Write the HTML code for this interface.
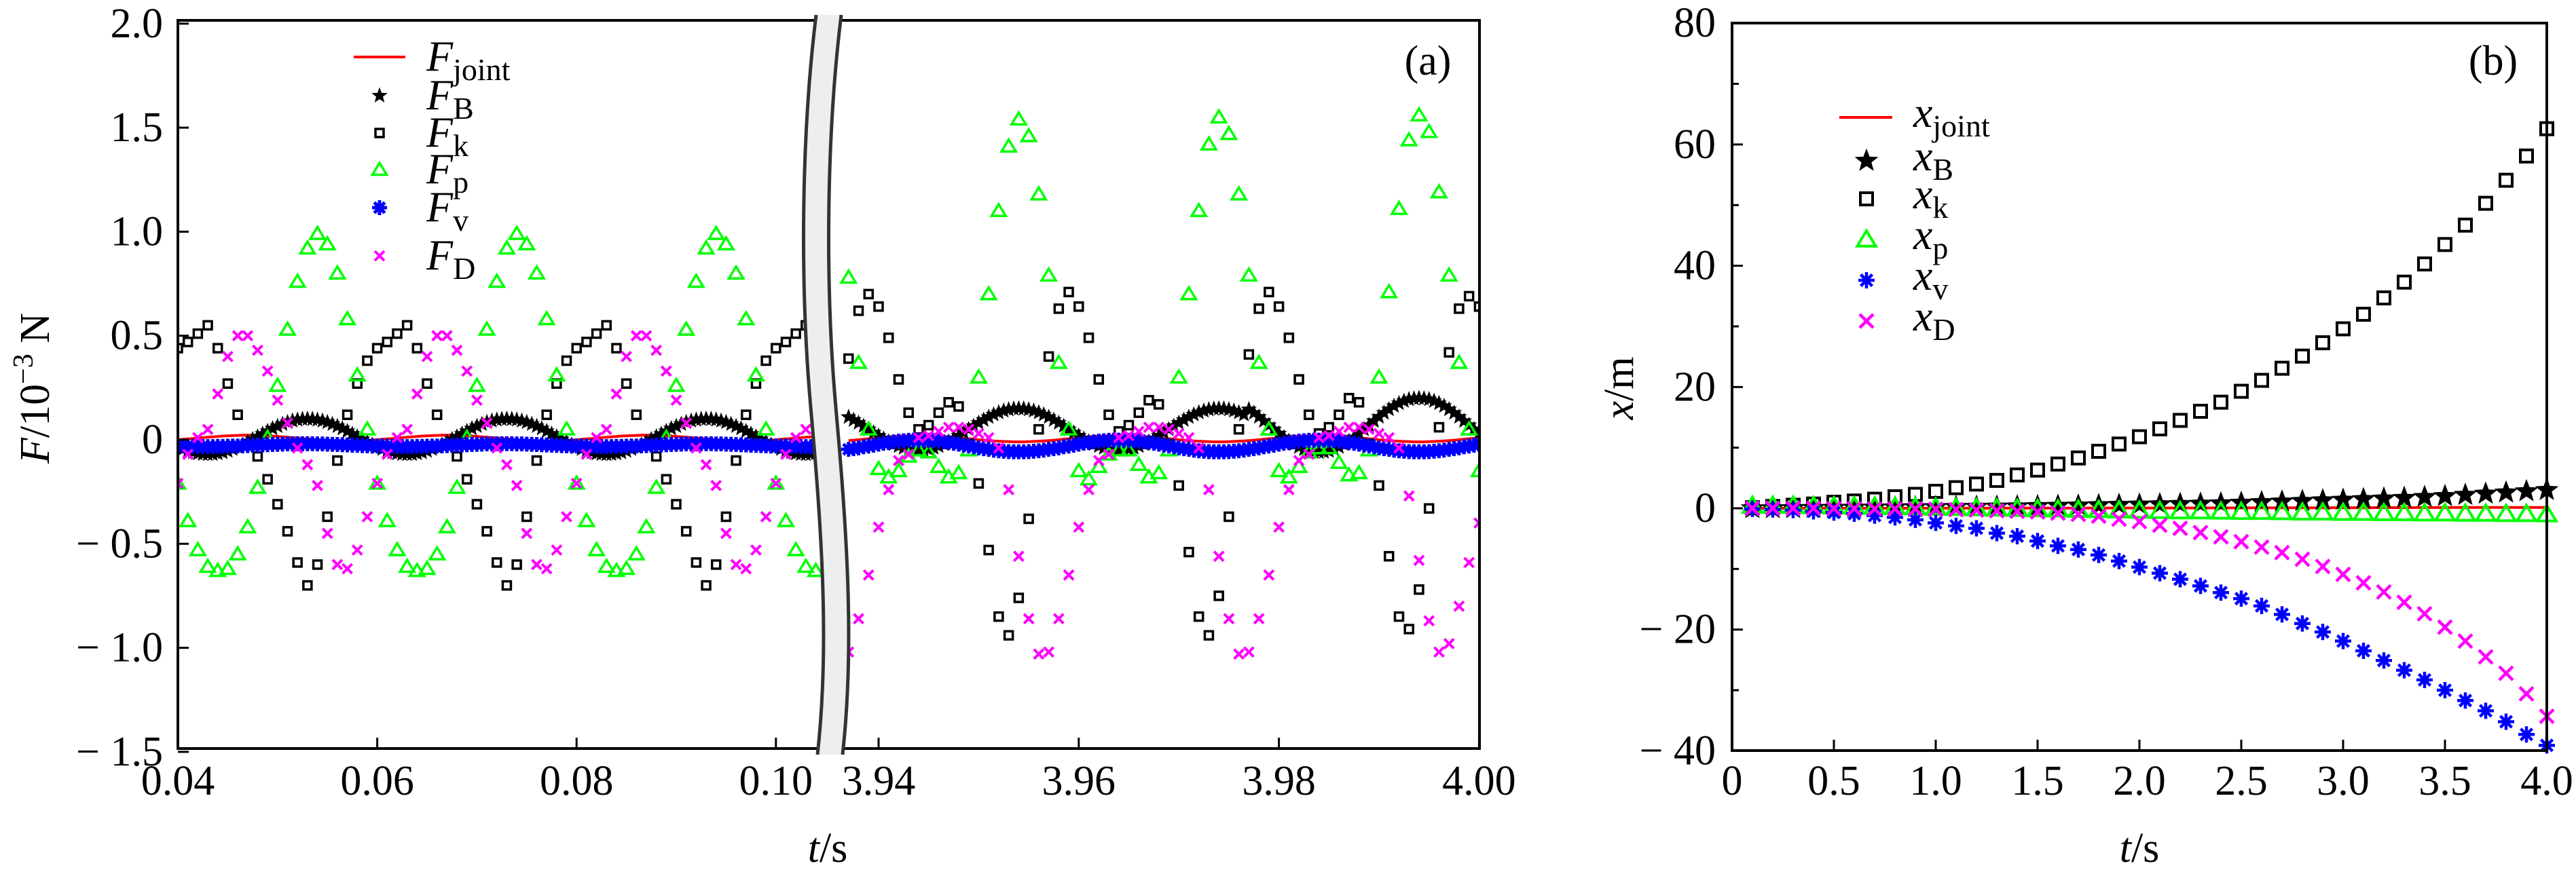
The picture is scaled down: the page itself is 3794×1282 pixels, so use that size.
<!DOCTYPE html>
<html><head><meta charset="utf-8"><style>
html,body{margin:0;padding:0;background:#fff}
svg{display:block}
text{font-family:"Liberation Serif",serif;fill:#000}
</style></head><body>
<svg id="chart" width="3794" height="1282" viewBox="0 0 3794 1282" xmlns="http://www.w3.org/2000/svg">
<g id="pa"></g>
<g id="pb"></g>
</svg>
<script>
// ---------- Panel (a) data ----------
const aLeftStart = 0.040, aRightStart = 3.937, sparseStep = 0.001, denseStep = 0.0005;
const aYTicks = [2.0, 1.5, 1.0, 0.5, 0, -0.5, -1.0, -1.5];
const aYTickLabels = ["2.0","1.5","1.0","0.5","0","− 0.5","− 1.0","− 1.5"];
const aXTicksLeft = [0.04, 0.06, 0.08, 0.10];
const aXTickLabelsLeft = ["0.04","0.06","0.08","0.10"];
const aXTicksRight = [3.94, 3.96, 3.98, 4.00];
const aXTickLabelsRight = ["3.94","3.96","3.98","4.00"];

const FkL = [0.44,0.47,0.51,0.55,0.44,0.27,0.12,-0.02,-0.08,-0.19,-0.31,-0.44,-0.59,-0.70,-0.60,-0.37,-0.10,0.12,0.27,0.38,
0.44,0.47,0.51,0.55,0.44,0.27,0.12,-0.02,-0.08,-0.19,-0.31,-0.44,-0.59,-0.70,-0.60,-0.37,-0.10,0.12,0.27,0.38,
0.44,0.47,0.51,0.55,0.44,0.27,0.12,-0.02,-0.08,-0.19,-0.31,-0.44,-0.59,-0.70,-0.60,-0.37,-0.10,0.12,0.27,0.38,
0.44,0.47,0.51,0.55,0.44];
const FpL = [-0.21,-0.39,-0.53,-0.61,-0.63,-0.62,-0.55,-0.42,-0.23,0.01,0.26,0.53,0.76,0.92,0.99,0.94,0.80,0.58,0.31,0.05,
-0.21,-0.39,-0.53,-0.61,-0.63,-0.62,-0.55,-0.42,-0.23,0.01,0.26,0.53,0.76,0.92,0.99,0.94,0.80,0.58,0.31,0.05,
-0.21,-0.39,-0.53,-0.61,-0.63,-0.62,-0.55,-0.42,-0.23,0.01,0.26,0.53,0.76,0.92,0.99,0.94,0.80,0.58,0.31,0.05,
-0.21,-0.39,-0.53,-0.61,-0.63];
const FDL = [-0.21,-0.07,0.01,0.05,0.22,0.40,0.50,0.50,0.43,0.33,0.19,0.08,-0.04,-0.12,-0.22,-0.45,-0.60,-0.62,-0.53,-0.37,
-0.21,-0.07,0.01,0.05,0.22,0.40,0.50,0.50,0.43,0.33,0.19,0.08,-0.04,-0.12,-0.22,-0.45,-0.60,-0.62,-0.53,-0.37,
-0.21,-0.07,0.01,0.05,0.22,0.40,0.50,0.50,0.43,0.33,0.19,0.08,-0.04,-0.12,-0.22,-0.45,-0.60,-0.62,-0.53,-0.37,
-0.21,-0.07,0.01,0.05,0.22];
const FkR = [0.39,0.62,0.70,0.64,0.49,0.29,0.13,0.05,0.07,0.13,0.18,0.16,-0.02,-0.21,-0.53,-0.85,-0.94,-0.76,-0.38,0.05,
0.40,0.63,0.71,0.64,0.49,0.29,0.12,0.04,0.07,0.13,0.19,0.17,-0.02,-0.22,-0.54,-0.85,-0.94,-0.75,-0.37,0.05,
0.41,0.63,0.71,0.64,0.49,0.29,0.12,0.03,0.06,0.12,0.20,0.18,-0.02,-0.22,-0.56,-0.85,-0.91,-0.72,-0.33,0.06,
0.42,0.63,0.69,0.64];
const FpR = [0.78,0.37,0.05,-0.14,-0.18,-0.15,-0.08,-0.05,-0.06,-0.13,-0.18,-0.16,-0.05,0.30,0.70,1.10,1.41,1.54,1.46,1.18,
0.79,0.37,0.05,-0.15,-0.19,-0.13,-0.07,-0.05,-0.05,-0.12,-0.18,-0.16,-0.05,0.30,0.70,1.10,1.42,1.55,1.47,1.18,
0.79,0.37,0.05,-0.15,-0.18,-0.13,-0.06,-0.04,-0.04,-0.11,-0.17,-0.16,-0.05,0.30,0.71,1.11,1.44,1.56,1.48,1.19,
0.79,0.37,0.05,-0.15];
const FDR = [-1.02,-0.86,-0.65,-0.42,-0.24,-0.10,-0.07,0.01,0.02,0.04,0.06,0.06,0.05,0.03,0.01,-0.04,-0.24,-0.56,-0.86,-1.03,
-1.02,-0.86,-0.65,-0.42,-0.24,-0.10,-0.07,0.01,0.02,0.04,0.06,0.06,0.05,0.03,0.01,-0.04,-0.24,-0.56,-0.86,-1.03,
-1.02,-0.86,-0.65,-0.42,-0.24,-0.10,-0.07,0.01,0.02,0.04,0.06,0.06,0.05,0.03,0.01,-0.04,-0.27,-0.58,-0.87,-1.02,
-0.98,-0.80,-0.59,-0.40];

const FBL = [-0.035,-0.045,-0.054,-0.061,-0.066,-0.069,-0.07,-0.069,-0.066,-0.061,-0.054,-0.045,-0.035,-0.024,-0.011,0.002,0.015,0.028,0.041,0.054,0.065,0.075,0.084,0.091,0.096,0.099,0.1,0.099,0.096,0.091,0.084,0.075,0.065,0.054,0.041,0.028,0.015,0.002,-0.011,-0.024,
-0.035,-0.045,-0.054,-0.061,-0.066,-0.069,-0.07,-0.069,-0.066,-0.061,-0.054,-0.045,-0.035,-0.024,-0.011,0.002,0.015,0.028,0.041,0.054,0.065,0.075,0.084,0.091,0.096,0.099,0.1,0.099,0.096,0.091,0.084,0.075,0.065,0.054,0.041,0.028,0.015,0.002,-0.011,-0.024,
-0.035,-0.045,-0.054,-0.061,-0.066,-0.069,-0.07,-0.069,-0.066,-0.061,-0.054,-0.045,-0.035,-0.024,-0.011,0.002,0.015,0.028,0.041,0.054,0.065,0.075,0.084,0.091,0.096,0.099,0.1,0.099,0.096,0.091,0.084,0.075,0.065,0.054,0.041,0.028,0.015,0.002,-0.011,-0.024,
-0.035,-0.045,-0.054,-0.061,-0.066,-0.069,-0.07,-0.069,-0.066];
const FvL = [-0.03,-0.03,-0.031,-0.032,-0.032,-0.033,-0.033,-0.033,-0.032,-0.032,-0.031,-0.03,-0.03,-0.029,-0.028,-0.027,-0.026,-0.025,-0.024,-0.023,-0.022,-0.021,-0.02,-0.02,-0.019,-0.019,-0.019,-0.019,-0.02,-0.02,-0.021,-0.022,-0.023,-0.024,-0.025,-0.026,-0.027,-0.028,-0.029,-0.03,
-0.03,-0.03,-0.031,-0.032,-0.032,-0.033,-0.033,-0.033,-0.032,-0.032,-0.031,-0.03,-0.03,-0.029,-0.028,-0.027,-0.026,-0.025,-0.024,-0.023,-0.022,-0.021,-0.02,-0.02,-0.019,-0.019,-0.019,-0.019,-0.02,-0.02,-0.021,-0.022,-0.023,-0.024,-0.025,-0.026,-0.027,-0.028,-0.029,-0.03,
-0.03,-0.03,-0.031,-0.032,-0.032,-0.033,-0.033,-0.033,-0.032,-0.032,-0.031,-0.03,-0.03,-0.029,-0.028,-0.027,-0.026,-0.025,-0.024,-0.023,-0.022,-0.021,-0.02,-0.02,-0.019,-0.019,-0.019,-0.019,-0.02,-0.02,-0.021,-0.022,-0.023,-0.024,-0.025,-0.026,-0.027,-0.028,-0.029,-0.03,
-0.03,-0.03,-0.031,-0.032,-0.032,-0.033,-0.033,-0.033,-0.032];
const FjL = [0.0,0.002,0.004,0.006,0.008,0.01,0.012,0.014,0.016,0.018,0.019,0.02,0.021,0.022,0.022,0.022,0.021,0.02,0.019,0.018,0.016,0.014,0.012,0.01,0.008,0.006,0.004,0.002,0.0,-0.002,-0.003,-0.004,-0.005,-0.006,-0.006,-0.006,-0.005,-0.004,-0.003,-0.002,
0.0,0.002,0.004,0.006,0.008,0.01,0.012,0.014,0.016,0.018,0.019,0.02,0.021,0.022,0.022,0.022,0.021,0.02,0.019,0.018,0.016,0.014,0.012,0.01,0.008,0.006,0.004,0.002,0.0,-0.002,-0.003,-0.004,-0.005,-0.006,-0.006,-0.006,-0.005,-0.004,-0.003,-0.002,
0.0,0.002,0.004,0.006,0.008,0.01,0.012,0.014,0.016,0.018,0.019,0.02,0.021,0.022,0.022,0.022,0.021,0.02,0.019,0.018,0.016,0.014,0.012,0.01,0.008,0.006,0.004,0.002,0.0,-0.002,-0.003,-0.004,-0.005,-0.006,-0.006,-0.006,-0.005,-0.004,-0.003,-0.002,
0.0,0.002,0.004,0.006,0.008,0.01,0.012,0.014,0.016];
const FBR = [0.109,0.095,0.081,0.066,0.05,0.034,0.019,0.005,-0.009,-0.021,-0.031,-0.039,-0.045,-0.049,-0.05,-0.049,-0.045,-0.039,-0.031,-0.021,-0.009,0.005,0.019,0.034,0.05,0.066,0.081,0.095,0.109,0.121,0.131,0.139,0.145,0.149,0.15,0.149,0.145,0.139,0.131,0.121,
0.109,0.095,0.081,0.066,0.05,0.034,0.019,0.005,-0.009,-0.021,-0.031,-0.039,-0.045,-0.049,-0.05,-0.049,-0.045,-0.039,-0.031,-0.021,-0.009,0.005,0.019,0.034,0.05,0.066,0.081,0.095,0.109,0.121,0.131,0.139,0.145,0.149,0.15,0.149,0.145,0.139,0.131,0.121,
0.146,0.129,0.110,0.090,0.07,0.050,0.030,0.011,-0.006,-0.022,-0.035,-0.046,-0.054,-0.058,-0.06,-0.058,-0.054,-0.046,-0.035,-0.022,-0.006,0.011,0.030,0.050,0.07,0.090,0.110,0.129,0.146,0.162,0.175,0.186,0.194,0.198,0.2,0.198,0.194,0.186,0.175,0.162,
0.146,0.129,0.110,0.090,0.07,0.050,0.030];
const FvR = [-0.046,-0.043,-0.039,-0.034,-0.03,-0.026,-0.021,-0.017,-0.014,-0.01,-0.007,-0.005,-0.003,-0.002,-0.002,-0.002,-0.003,-0.005,-0.007,-0.01,-0.014,-0.017,-0.021,-0.026,-0.03,-0.034,-0.039,-0.043,-0.046,-0.05,-0.053,-0.055,-0.057,-0.058,-0.058,-0.058,-0.057,-0.055,-0.053,-0.05,
-0.046,-0.043,-0.039,-0.034,-0.03,-0.026,-0.021,-0.017,-0.014,-0.01,-0.007,-0.005,-0.003,-0.002,-0.002,-0.002,-0.003,-0.005,-0.007,-0.01,-0.014,-0.017,-0.021,-0.026,-0.03,-0.034,-0.039,-0.043,-0.046,-0.05,-0.053,-0.055,-0.057,-0.058,-0.058,-0.058,-0.057,-0.055,-0.053,-0.05,
-0.046,-0.043,-0.039,-0.034,-0.03,-0.026,-0.021,-0.017,-0.014,-0.01,-0.007,-0.005,-0.003,-0.002,-0.002,-0.002,-0.003,-0.005,-0.007,-0.01,-0.014,-0.017,-0.021,-0.026,-0.03,-0.034,-0.039,-0.043,-0.046,-0.05,-0.053,-0.055,-0.057,-0.058,-0.058,-0.058,-0.057,-0.055,-0.053,-0.05,
-0.046,-0.043,-0.039,-0.034,-0.03,-0.026,-0.021];
const FjR = [-0.004,-0.002,0.0,0.003,0.005,0.007,0.01,0.012,0.014,0.016,0.017,0.018,0.019,0.02,0.02,0.02,0.019,0.018,0.017,0.016,0.014,0.012,0.01,0.007,0.005,0.003,0.0,-0.002,-0.004,-0.006,-0.007,-0.008,-0.009,-0.01,-0.01,-0.01,-0.009,-0.008,-0.007,-0.006,
-0.004,-0.002,0.0,0.003,0.005,0.007,0.01,0.012,0.014,0.016,0.017,0.018,0.019,0.02,0.02,0.02,0.019,0.018,0.017,0.016,0.014,0.012,0.01,0.007,0.005,0.003,0.0,-0.002,-0.004,-0.006,-0.007,-0.008,-0.009,-0.01,-0.01,-0.01,-0.009,-0.008,-0.007,-0.006,
-0.004,-0.002,0.0,0.003,0.005,0.007,0.01,0.012,0.014,0.016,0.017,0.018,0.019,0.02,0.02,0.02,0.019,0.018,0.017,0.016,0.014,0.012,0.01,0.007,0.005,0.003,0.0,-0.002,-0.004,-0.006,-0.007,-0.008,-0.009,-0.01,-0.01,-0.01,-0.009,-0.008,-0.007,-0.006,
-0.004,-0.002,0.0,0.003,0.005,0.007,0.01];

// ---------- Panel (b) data ----------
const bTime = [0.1,0.2,0.3,0.4,0.5,0.6,0.7,0.8,0.9,1.0,1.1,1.2,1.3,1.4,1.5,1.6,1.7,1.8,1.9,2.0,2.1,2.2,2.3,2.4,2.5,2.6,2.7,2.8,2.9,3.0,3.1,3.2,3.3,3.4,3.5,3.6,3.7,3.8,3.9,4.0];
const xk = [0.1,0.3,0.5,0.7,1.0,1.2,1.5,1.9,2.3,2.8,3.4,4.0,4.6,5.5,6.3,7.3,8.3,9.4,10.6,11.8,13.1,14.5,16.0,17.5,19.3,21.1,23.1,25.1,27.3,29.6,32.0,34.7,37.3,40.3,43.5,46.7,50.3,54.1,58.1,62.6];
const xv = [-0.1,-0.2,-0.3,-0.5,-0.7,-0.9,-1.2,-1.5,-1.9,-2.4,-2.9,-3.3,-4.1,-4.6,-5.4,-6.2,-6.8,-7.7,-8.7,-9.7,-10.7,-11.7,-12.8,-13.9,-14.9,-16.1,-17.5,-19.0,-20.4,-21.9,-23.5,-25.1,-26.7,-28.3,-30.0,-31.7,-33.4,-35.2,-37.3,-39.1];
const xD = [0,0,0,0,-0.05,-0.05,-0.1,-0.1,-0.1,-0.15,-0.2,-0.3,-0.4,-0.5,-0.6,-0.8,-1.0,-1.3,-1.8,-2.2,-2.8,-3.3,-4.0,-4.7,-5.5,-6.4,-7.3,-8.4,-9.6,-10.9,-12.3,-13.8,-15.5,-17.4,-19.6,-21.9,-24.5,-27.2,-30.6,-34.3];
const xB = [0,0,0.02,0.05,0.07,0.1,0.12,0.15,0.18,0.2,0.22,0.25,0.27,0.3,0.35,0.4,0.45,0.5,0.55,0.6,0.65,0.7,0.75,0.8,0.9,1.0,1.1,1.2,1.3,1.4,1.5,1.6,1.7,1.85,2.0,2.2,2.4,2.6,2.8,3.0];
const xp = [0.4,0.4,0.4,0.35,0.3,0.3,0.25,0.2,0.15,0.1,0.05,0,-0.05,-0.1,-0.15,-0.2,-0.25,-0.3,-0.35,-0.4,-0.45,-0.5,-0.5,-0.55,-0.6,-0.6,-0.65,-0.7,-0.7,-0.75,-0.75,-0.8,-0.8,-0.85,-0.85,-0.9,-0.9,-0.95,-0.95,-1.0];
const xj = [0,0,0,0,0,0,0,0,0,0.01,0.01,0.01,0.02,0.02,0.02,0.03,0.03,0.04,0.04,0.05,0.05,0.06,0.06,0.07,0.07,0.08,0.08,0.09,0.09,0.1,0.1,0.11,0.11,0.12,0.12,0.13,0.13,0.14,0.14,0.15];
const bYTicks = [80,60,40,20,0,-20,-40];
const bYTickLabels = ["80","60","40","20","0","− 20","− 40"];
const bYMinor = [70,50,30,10,-10,-30];
const bXTicks = [0,0.5,1.0,1.5,2.0,2.5,3.0,3.5,4.0];
const bXTickLabels = ["0","0.5","1.0","1.5","2.0","2.5","3.0","3.5","4.0"];

// ---------- scales ----------
const A = {x0:262, x1:2179, y0:30, y1:1103};
function xaL(t){ return 262 + (t-0.04)*14680; }
function xaR(t){ return 1294 + (t-3.94)*14740; }
function ya(v){ return 648 - v*306.6; }
const B = {x0:2551, x1:3751, y0:34, y1:1106};
function xb(t){ return 2551 + t*300; }
function yb(v){ return 749 - v*8.935; }

const NS = "http://www.w3.org/2000/svg";
const FS = 62;
function mk(tag, attrs, parent){
  const e = document.createElementNS(NS, tag);
  for (const k in attrs) e.setAttribute(k, attrs[k]);
  parent.appendChild(e);
  return e;
}
const GREEN = "#00ff00", MAG = "#ff00ff", BLUE = "#0000ff", RED = "#ff0000";

function starPts(cx, cy, r){
  let p = [];
  for (let i=0;i<10;i++){
    const rr = i%2===0 ? r : r*0.42;
    const a = -Math.PI/2 + i*Math.PI/5;
    p.push((cx+rr*Math.cos(a)).toFixed(1)+","+(cy+rr*Math.sin(a)).toFixed(1));
  }
  return p.join(" ");
}
function drawMarker(g, type, cx, cy, s){
  if (type==="star"){
    const e = mk("polygon", {points:starPts(cx,cy,s.r), fill:s.fill||"#000", stroke:"#000", "stroke-width":s.sw||1.5, "stroke-linejoin":"miter"}, g);
    
    
  } else if (type==="square"){
    const e = mk("rect", {x:cx-s.r, y:cy-s.r, width:2*s.r, height:2*s.r, fill:"none", stroke:"#000", "stroke-width":s.sw}, g);
    
    
  } else if (type==="tri"){
    const r = s.r;
    const e = mk("polygon", {points:`${cx},${cy-r} ${cx+r*1.05},${cy+r*0.75} ${cx-r*1.05},${cy+r*0.75}`, fill:"none", stroke:GREEN, "stroke-width":s.sw, "stroke-linejoin":"miter"}, g);
    
    
  } else if (type==="ast"){
    const r = s.r;
    let d = "";
    for (let i=0;i<4;i++){ const a=i*Math.PI/4; d += `M${cx-r*Math.cos(a)},${cy-r*Math.sin(a)}L${cx+r*Math.cos(a)},${cy+r*Math.sin(a)}`; }
    const e = mk("path", {d:d, stroke:BLUE, "stroke-width":s.sw, fill:"none"}, g);
    
    
  } else if (type==="x"){
    const r = s.r;
    const e = mk("path", {d:`M${cx-r},${cy-r}L${cx+r},${cy+r}M${cx-r},${cy+r}L${cx+r},${cy-r}`, stroke:MAG, "stroke-width":s.sw, fill:"none"}, g);
    
    
  }
}
function linePath(ts, vs, fx, fy){
  return ts.map((t,i)=>(i?"L":"M")+fx(t).toFixed(1)+","+fy(vs[i]).toFixed(1)).join("");
}
function times(start, step, n){ const a=[]; for(let i=0;i<n;i++) a.push(+(start+i*step).toFixed(5)); return a; }

// ---------- Panel (a) ----------
const pa = document.getElementById("pa");
const clipA = mk("clipPath", {id:"clipA"}, pa);
mk("rect", {x:A.x0, y:A.y0, width:A.x1-A.x0, height:A.y1-A.y0}, clipA);
const marksA = mk("g", {"clip-path":"url(#clipA)"}, pa);



const tLs = times(aLeftStart, sparseStep, FkL.length);
const tRs = times(aRightStart, sparseStep, FkR.length);
const tLd = times(aLeftStart, denseStep, FBL.length);
const tRd = times(aRightStart, denseStep, FBR.length);

const jl = mk("path", {d:linePath(tLd,FjL,xaL,ya)+linePath(tRd,FjR,xaR,ya), stroke:RED, "stroke-width":4, fill:"none"}, marksA);



function series(parent, name, ts, vs, fx, fy, type, s){
  const g = mk("g", {}, parent);
  
  
  ts.forEach((t,i)=>drawMarker(g, type, fx(t), fy(vs[i]), s));
}
const sA = {star:{r:11,sw:1}, sq:{r:6,sw:3.5}, tri:{r:10,sw:3.5}, ast:{r:11,sw:5}, x:{r:7,sw:4}};
series(marksA, "series-f-b-left", tLd, FBL, xaL, ya, "star", sA.star);
series(marksA, "series-f-b-right", tRd, FBR, xaR, ya, "star", sA.star);
series(marksA, "series-f-k-left", tLs, FkL, xaL, ya, "square", sA.sq);
series(marksA, "series-f-k-right", tRs, FkR, xaR, ya, "square", sA.sq);
series(marksA, "series-f-p-left", tLs, FpL, xaL, ya, "tri", sA.tri);
series(marksA, "series-f-p-right", tRs, FpR, xaR, ya, "tri", sA.tri);
series(marksA, "series-f-v-left", tLd, FvL, xaL, ya, "ast", sA.ast);
series(marksA, "series-f-v-right", tRd, FvR, xaR, ya, "ast", sA.ast);
series(marksA, "series-f-d-left", tLs, FDL, xaL, ya, "x", sA.x);
series(marksA, "series-f-d-right", tRs, FDR, xaR, ya, "x", sA.x);

const fa = mk("rect", {x:A.x0, y:A.y0, width:A.x1-A.x0, height:A.y1-A.y0, fill:"none", stroke:"#000", "stroke-width":4}, pa);


aYTicks.forEach((v,i)=>{
  const y = ya(v);
  const tk = mk("line", {x1:A.x0, x2:A.x0+16, y1:y, y2:y, stroke:"#000", "stroke-width":3}, pa);
  
  
  const tx = mk("text", {x:240, y:y+20, "font-size":FS, "text-anchor":"end"}, pa);
  tx.textContent = aYTickLabels[i];
  
  
});
function xTicksA(ticks, labels, fx){
  ticks.forEach((t,i)=>{
    const x = fx(t);
    const tk = mk("line", {x1:x, x2:x, y1:A.y1, y2:A.y1-16, stroke:"#000", "stroke-width":3}, pa);
    
    
    const tx = mk("text", {x:x, y:1171, "font-size":FS, "text-anchor":"middle"}, pa);
    tx.textContent = labels[i];
    
    
  });
}
xTicksA(aXTicksLeft, aXTickLabelsLeft, xaL);
xTicksA(aXTicksRight, aXTickLabelsRight, xaR);

const brk = mk("path", {d:"M1202,22 C1180,200 1178,420 1194,600 C1210,780 1222,950 1204,1112 L1241,1112 C1259,950 1247,780 1231,600 C1215,420 1217,200 1239,22 Z", fill:"#eeeeee", stroke:"none"}, pa);


const brkL = mk("path", {d:"M1202,22 C1180,200 1178,420 1194,600 C1210,780 1222,950 1204,1112", fill:"none", stroke:"#333", "stroke-width":5}, pa);


const brkR = mk("path", {d:"M1239,22 C1217,200 1215,420 1231,600 C1247,780 1259,950 1241,1112", fill:"none", stroke:"#333", "stroke-width":5}, pa);



const ylA = mk("text", {x:0, y:0, "font-size":FS, "text-anchor":"middle", transform:"translate(72,572) rotate(-90)"}, pa);
ylA.innerHTML = '<tspan font-style="italic">F</tspan>/10<tspan dy="-24" font-size="42">−3</tspan><tspan dy="24"> N</tspan>';


const xlA = mk("text", {x:1219, y:1270, "font-size":FS, "text-anchor":"middle"}, pa);
xlA.innerHTML = '<tspan font-style="italic">t</tspan>/s';


const pla = mk("text", {x:2103, y:110, "font-size":FS, "text-anchor":"middle"}, pa);
pla.textContent = "(a)";



const legA = mk("g", {}, pa);


const legAItems = [["line","joint",84],["star","B",141],["square","k",196],["tri","p",250],["ast","v",306],["x","D",377]];
legAItems.forEach(([type, sub, y])=>{
  const g = mk("g", {}, legA);
  
  
  if (type==="line") mk("line", {x1:521, x2:597, y1:y, y2:y, stroke:RED, "stroke-width":4}, g);
  else drawMarker(g, type, 559, y, sA[type==="square"?"sq":type]);
  const t = mk("text", {x:628, y:y+20, "font-size":64}, g);
  t.innerHTML = '<tspan font-style="italic">F</tspan><tspan dy="14" font-size="46">'+sub+'</tspan>';
});

// ---------- Panel (b) ----------
const pb = document.getElementById("pb");
const marksB = mk("g", {}, pb);


const sB = {star:{r:14,sw:3,fill:"#000"}, sq:{r:9,sw:4}, tri:{r:13,sw:4}, ast:{r:12,sw:4.5}, x:{r:10,sw:4.5}};
const jb = mk("path", {d:linePath(bTime,xj,xb,yb), stroke:RED, "stroke-width":4, fill:"none"}, marksB);


series(marksB, "series-x-b", bTime, xB, xb, yb, "star", sB.star);
series(marksB, "series-x-k", bTime, xk, xb, yb, "square", sB.sq);
series(marksB, "series-x-p", bTime, xp, xb, yb, "tri", sB.tri);
series(marksB, "series-x-v", bTime, xv, xb, yb, "ast", sB.ast);
series(marksB, "series-x-d", bTime, xD, xb, yb, "x", sB.x);

const fb = mk("rect", {x:B.x0, y:B.y0, width:B.x1-B.x0, height:B.y1-B.y0, fill:"none", stroke:"#000", "stroke-width":4}, pb);


bYTicks.forEach((v,i)=>{
  const y = yb(v);
  const tk = mk("line", {x1:B.x0, x2:B.x0+16, y1:y, y2:y, stroke:"#000", "stroke-width":3}, pb);
  
  
  const tx = mk("text", {x:2527, y:y+20, "font-size":FS, "text-anchor":"end"}, pb);
  tx.textContent = bYTickLabels[i];
  
  
});
bYMinor.forEach(v=>{
  const y = yb(v);
  const tk = mk("line", {x1:B.x0, x2:B.x0+10, y1:y, y2:y, stroke:"#000", "stroke-width":3}, pb);
  
  
});
bXTicks.forEach((t,i)=>{
  const x = xb(t);
  const tk = mk("line", {x1:x, x2:x, y1:B.y1, y2:B.y1-16, stroke:"#000", "stroke-width":3}, pb);
  
  
  const tx = mk("text", {x:x, y:1171, "font-size":FS, "text-anchor":"middle"}, pb);
  tx.textContent = bXTickLabels[i];
  
  
});
const ylB = mk("text", {x:0, y:0, "font-size":FS, "text-anchor":"middle", transform:"translate(2405,572) rotate(-90)"}, pb);
ylB.innerHTML = '<tspan font-style="italic">x</tspan>/m';


const xlB = mk("text", {x:3151, y:1270, "font-size":FS, "text-anchor":"middle"}, pb);
xlB.innerHTML = '<tspan font-style="italic">t</tspan>/s';


const plb = mk("text", {x:3672, y:110, "font-size":FS, "text-anchor":"middle"}, pb);
plb.textContent = "(b)";



const legB = mk("g", {}, pb);


const legBItems = [["line","joint",173],["star","B",237],["square","k",293],["tri","p",353],["ast","v",413],["x","D",473]];
legBItems.forEach(([type, sub, y])=>{
  const g = mk("g", {}, legB);
  
  
  if (type==="line") mk("line", {x1:2709, x2:2787, y1:y, y2:y, stroke:RED, "stroke-width":4}, g);
  else drawMarker(g, type, 2749, y, sB[type==="square"?"sq":type]);
  const t = mk("text", {x:2818, y:y+14, "font-size":64}, g);
  t.innerHTML = '<tspan font-style="italic">x</tspan><tspan dy="14" font-size="46">'+sub+'</tspan>';
});
</script>
</body></html>
